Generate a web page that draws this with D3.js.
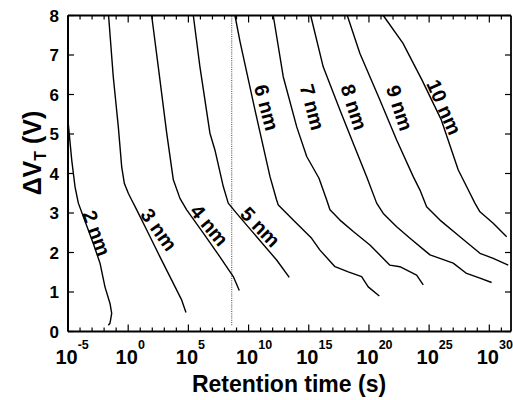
<!DOCTYPE html>
<html>
<head>
<meta charset="utf-8">
<script src="https://cdn.jsdelivr.net/npm/d3@7"></script>
<style>
  body { margin: 0; background: #fff; }
  text { font-family: "Liberation Sans", Arial, Helvetica, sans-serif; font-weight: bold; fill: #000; }
</style>
</head>
<body>
<svg id="chart" width="513" height="400"></svg>
<script>
// ---- data: [log10(retention time / s), ΔV_T (V)] ----
const thicknesses = ["2 nm", "3 nm", "4 nm", "5 nm", "6 nm", "7 nm", "8 nm", "9 nm", "10 nm"];

const curve2nm = [[-5.00, 8.0], [-4.99, 5.3], [-4.69, 4.34], [-4.42, 3.67], [-4.14, 3.25], [-3.73, 2.91],
  [-2.90, 2.23], [-2.34, 1.73], [-1.93, 1.13], [-1.51, 0.71], [-1.37, 0.46], [-1.51, 0.21], [-1.65, 0.16]];
const curve3nm = [[-1.63, 8.0], [-1.24, 6.45], [-0.82, 5.18], [-0.54, 4.17], [-0.32, 3.75], [0.01, 3.50],
  [0.29, 3.33], [0.71, 3.08], [1.54, 2.57], [2.64, 1.89], [3.75, 1.22], [4.44, 0.80], [4.80, 0.48]];
const curve4nm = [[1.95, 8.0], [2.50, 6.70], [3.20, 5.02], [3.75, 3.84], [4.30, 3.37], [4.86, 3.08],
  [6.24, 2.49], [7.62, 1.89], [8.73, 1.39], [9.23, 1.04]];
const curve5nm = [[5.41, 8.0], [5.96, 6.70], [6.79, 5.02], [7.21, 4.59], [7.90, 3.67], [8.31, 3.25],
  [9.01, 2.99], [10.67, 2.40], [12.33, 1.81], [13.38, 1.37]];
const curve6nm = [[8.87, 8.0], [9.29, 7.34], [10.53, 5.61], [11.78, 3.92], [12.33, 3.33], [12.47, 3.20],
  [13.71, 2.82], [15.24, 2.36], [15.93, 2.06], [17.18, 1.64], [18.28, 1.51], [19.39, 1.39], [19.94, 1.13], [20.86, 0.90]];
const curve7nm = [[12.05, 8.0], [12.88, 6.45], [14.00, 5.18], [14.83, 4.43], [15.85, 3.88], [16.49, 3.33],
  [16.76, 3.08], [17.59, 2.82], [18.70, 2.53], [20.08, 2.19], [21.74, 1.68], [22.57, 1.64], [23.96, 1.43], [24.51, 1.18]];
const curve8nm = [[15.16, 8.0], [16.20, 6.70], [17.59, 5.61], [18.70, 4.76], [19.81, 3.92], [20.64, 3.25],
  [21.19, 2.99], [22.30, 2.65], [23.41, 2.36], [25.07, 1.94], [27.00, 1.73], [28.11, 1.47], [29.22, 1.35], [30.19, 1.24]];
const curve9nm = [[18.20, 8.0], [19.25, 7.04], [20.91, 5.86], [22.30, 4.85], [23.68, 3.92], [24.24, 3.58],
  [24.79, 3.16], [25.90, 2.82], [27.56, 2.40], [29.22, 1.98], [30.32, 1.85], [31.57, 1.68]];
const curve10nm = [[21.19, 8.0], [22.82, 7.30], [24.40, 6.37], [26.02, 5.35], [27.42, 4.09], [28.11, 3.67],
  [28.80, 3.25], [29.22, 3.03], [30.32, 2.74], [31.44, 2.40]];

// label anchor: [log10 t, ΔV, rotation in degrees]
const labelAnchors = [[-2.62, 2.49, 70], [2.55, 2.58, 54], [6.74, 2.69, 50], [10.98, 2.65, 46],
  [11.50, 5.67, 75], [15.30, 5.68, 75], [18.76, 5.68, 72], [22.55, 5.66, 72], [26.25, 5.68, 66]];

// ten-year reference line (dotted)
const markerLogT = 8.6;
const markerV = [0.16, 8];

const xTickExponents = [-5, 0, 5, 10, 15, 20, 25, 30];
const xMinorExponents = d3.range(-5, 32);
const yTickValues = [0, 1, 2, 3, 4, 5, 6, 7, 8];
const xDomainExp = [-5, 31.8];
const yDomain = [0, 8];
const xTitle = "Retention time (s)";

// ---- drawing ----
const svg = d3.select("#chart");
const L = 68, R = 511, T = 15.5, B = 331.5;

const x = d3.scaleLog().domain([10 ** xDomainExp[0], 10 ** xDomainExp[1]]).range([L, R]);
const y = d3.scaleLinear().domain(yDomain).range([B, T]);
const px = d => x(10 ** d[0]);
const py = d => y(d[1]);

const curves = [curve2nm, curve3nm, curve4nm, curve5nm, curve6nm, curve7nm, curve8nm, curve9nm, curve10nm];

// dotted marker
svg.append("line")
  .attr("x1", x(10 ** markerLogT)).attr("x2", x(10 ** markerLogT))
  .attr("y1", y(markerV[0])).attr("y2", y(markerV[1]))
  .attr("stroke", "#555").attr("stroke-width", 1.1).attr("stroke-dasharray", "1,1.2");

const line = d3.line().x(px).y(py).curve(d3.curveLinear);
svg.append("g").selectAll("path").data(curves).join("path")
  .attr("d", line)
  .attr("fill", "none").attr("stroke", "#000").attr("stroke-width", 1.4)
  .attr("stroke-linejoin", "round");

// curve labels
svg.append("g").selectAll("text").data(thicknesses).join("text")
  .attr("transform", (d, i) => `translate(${px(labelAnchors[i])},${py(labelAnchors[i])}) rotate(${labelAnchors[i][2]})`)
  .attr("text-anchor", "middle").attr("dominant-baseline", "central")
  .attr("font-size", 20)
  .text(d => d);

// axes ticks
const tickG = svg.append("g");
xMinorExponents.forEach(e => {
  const major = e % 5 === 0;
  const len = major ? 7 : 4;
  const xx = x(10 ** e);
  tickG.append("line").attr("x1", xx).attr("x2", xx).attr("y1", B).attr("y2", B - len)
    .attr("stroke", "#000").attr("stroke-width", 1.2);
  tickG.append("line").attr("x1", xx).attr("x2", xx).attr("y1", T).attr("y2", T + len)
    .attr("stroke", "#000").attr("stroke-width", 1.2);
});
yTickValues.forEach(v => {
  const yy = y(v);
  tickG.append("line").attr("x1", L).attr("x2", L + 6).attr("y1", yy).attr("y2", yy)
    .attr("stroke", "#000").attr("stroke-width", 1.2);
  tickG.append("line").attr("x1", R).attr("x2", R - 6).attr("y1", yy).attr("y2", yy)
    .attr("stroke", "#000").attr("stroke-width", 1.2);
});

// frame
svg.append("line").attr("x1", L).attr("x2", L).attr("y1", T).attr("y2", B).attr("stroke", "#000").attr("stroke-width", 2);
svg.append("line").attr("x1", L).attr("x2", R).attr("y1", B).attr("y2", B).attr("stroke", "#000").attr("stroke-width", 2);
svg.append("line").attr("x1", L).attr("x2", R).attr("y1", T).attr("y2", T).attr("stroke", "#000").attr("stroke-width", 1.8);
svg.append("line").attr("x1", R).attr("x2", R).attr("y1", T).attr("y2", B).attr("stroke", "#000").attr("stroke-width", 1.8);

// y tick labels
svg.append("g").selectAll("text").data(yTickValues).join("text")
  .attr("x", L - 9).attr("y", d => y(d)).attr("dy", "0.36em")
  .attr("text-anchor", "end").attr("font-size", 17)
  .text(d => d);

// x tick labels: 10^n
const xl = svg.append("g").selectAll("g").data(xTickExponents).join("g")
  .attr("transform", d => `translate(${x(10 ** d)},0)`);
xl.append("text").attr("x", -1.5).attr("y", 364).attr("text-anchor", "middle").attr("font-size", 20).text("10");
xl.append("text").attr("x", 9.7).attr("y", 348.5).attr("font-size", 12.5)
  .text(d => d < 0 ? "-" + Math.abs(d) : d);

// axis titles
svg.append("text").attr("x", 289).attr("y", 392).attr("text-anchor", "middle")
  .attr("font-size", 23).text(xTitle);

const yt = svg.append("text").attr("transform", "translate(41,153) rotate(-90)")
  .attr("text-anchor", "middle").attr("font-size", 25);
yt.append("tspan").text("ΔV");
yt.append("tspan").attr("font-size", 16).attr("dy", 5).text("T");
yt.append("tspan").attr("dy", -5).text(" (V)");
</script>
</body>
</html>
